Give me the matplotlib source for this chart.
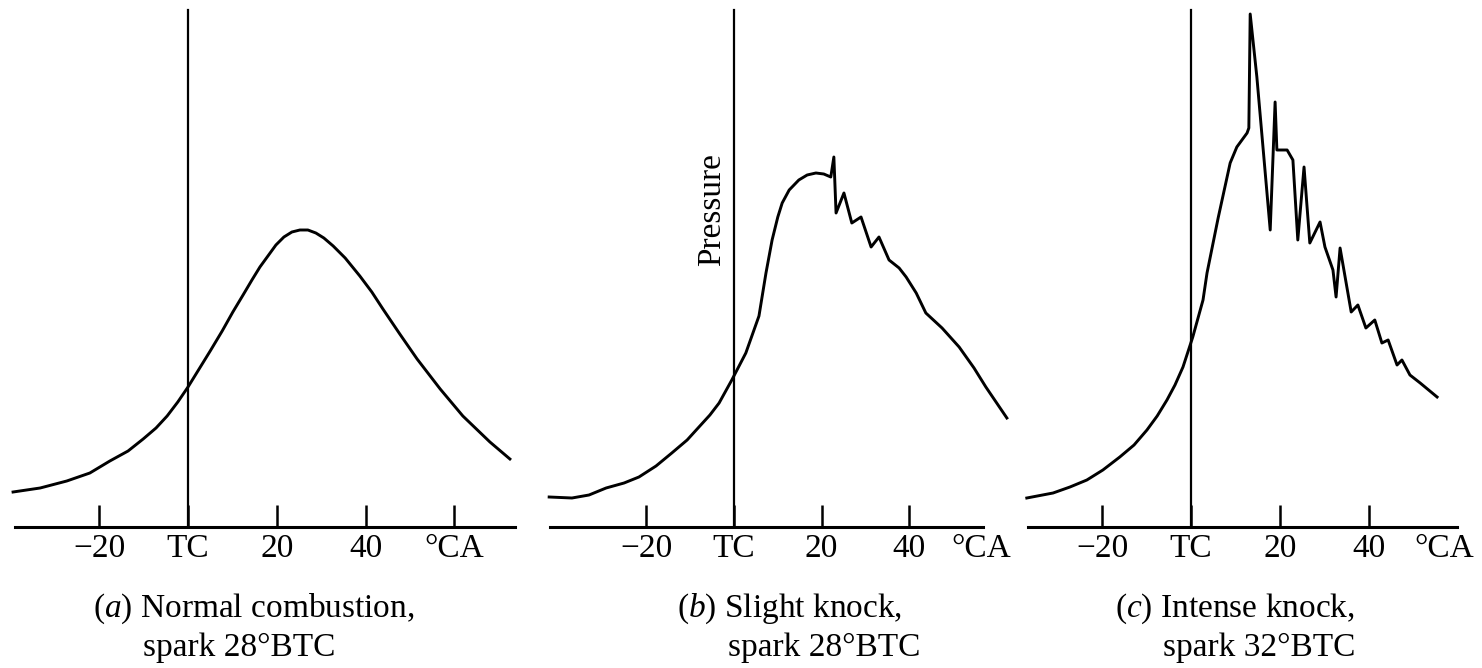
import numpy as np
import matplotlib
matplotlib.use("Agg")
import matplotlib.pyplot as plt

plt.rcParams['font.family'] = ['Liberation Serif', 'DejaVu Serif']
plt.rcParams['mathtext.fontset'] = 'custom'
plt.rcParams['mathtext.rm'] = 'Liberation Serif'
plt.rcParams['mathtext.it'] = 'Liberation Serif:italic'

# ---------------- data (crank angle deg, pressure arbitrary units) ----------------
a_ca = [-39.4, -33.3, -27.3, -22.1, -17.6, -13.5, -10.1, -7.2, -4.7, -2.3, 0.0, 2.5,
        5.0, 7.7, 10.1, 12.4, 14.4, 16.2, 18.0, 19.8, 21.6, 23.4, 25.2, 27.0,
        28.8, 30.6, 32.7, 35.4, 38.7, 41.4, 43.9, 47.7, 51.6, 56.8, 61.9, 68.0, 72.5]
a_p = [35, 39, 46, 54, 66, 76, 88, 99, 111, 125, 140, 158,
       176, 196, 215, 232, 247, 260, 271, 282, 290, 295, 297, 297,
       294, 289, 281, 269, 251, 235, 218, 193, 168, 138, 111, 85, 68]

b_ca = [-42.2, -37.0, -33.1, -29.2, -25.1, -21.7, -17.8, -14.2, -10.7, -8.0, -5.5, -3.4,
        -0.5, 2.7, 5.7, 7.3, 8.7, 10.0, 11.0, 12.6, 14.8, 16.7, 18.7, 20.5, 22.1,
        22.8, 23.3, 25.1, 26.9, 29.0, 31.3, 33.1, 35.4, 37.7, 39.3, 41.6, 43.8,
        47.5, 51.4, 54.8, 57.5, 62.3]
b_p = [30, 29, 32, 39, 44, 50, 61, 74, 87, 100, 112, 124,
       147, 174, 211, 254, 287, 310, 324, 337, 347, 352, 354, 353, 350,
       370, 314, 334, 304, 310, 280, 290, 267, 259, 250, 234, 214,
       199, 180, 159, 140, 109]

c_ca = [-36.9, -31.0, -27.2, -23.4, -19.8, -16.0, -12.8, -9.9, -7.6, -5.4, -3.6, -1.8,
        0.4, 2.7, 3.6, 6.1, 8.8, 10.3, 12.6, 13.0, 13.3, 14.8, 17.8, 18.9,
        19.3, 21.6, 22.9, 24.0, 25.4, 26.7, 29.0, 30.1, 31.9, 32.6, 33.5, 36.0,
        37.5, 39.3, 41.3, 42.9, 44.3, 46.3, 47.4, 49.2, 51.5, 55.3]
c_p = [29, 34, 40, 47, 57, 70, 82, 97, 111, 127, 142, 160,
       190, 227, 254, 309, 364, 380, 394, 399, 513, 450, 297, 425,
       377, 377, 367, 287, 360, 284, 305, 280, 257, 230, 279, 215,
       222, 199, 207, 184, 187, 162, 167, 152, 144, 130]

tick_vals = [-20, 0, 20, 40]
tick_labels = ['\u221220', 'TC', '20', '40']
unit_label = '\u00b0CA'
unit_pos = [60, 56.5, 57.0]

cap1 = [r'($\mathit{a}$) Normal combustion,', r'($\mathit{b}$) Slight knock,', r'($\mathit{c}$) Intense knock,']
cap2 = ['spark 28\u00b0BTC', 'spark 28\u00b0BTC', 'spark 32\u00b0BTC']
ylabel = 'Pressure'

# ---------------- layout (pixels) ----------------
W, H = 1482, 668
fig = plt.figure(figsize=(W / 100, H / 100), dpi=100)
base, top = 527, 7
panels = [  # axis left px, axis right px, TC px, px per degree
    (15, 515, 188, 4.44),
    (550, 983, 734, 4.38),
    (1028, 1457, 1191, 4.45),
]
cap_pos = [(93, 143), (677, 728), (1115, 1163)]
series = [(a_ca, a_p), (b_ca, b_p), (c_ca, c_p)]

for i, ((L, R, tc, s), (xs, ys)) in enumerate(zip(panels, series)):
    ax = fig.add_axes([L / W, (H - base) / H, (R - L) / W, (base - top) / H])
    ax.set_xlim((L - tc) / s, (R - tc) / s)
    ax.set_ylim(0, base - top)
    ax.patch.set_alpha(0)
    for sp in ['left', 'right', 'top']:
        ax.spines[sp].set_visible(False)
    ax.spines['bottom'].set_linewidth(2.2)
    ax.set_yticks([])
    ax.axvline(0, ymin=0, ymax=517 / 520, color='black', lw=1.6)
    ax.plot(xs, ys, color='black', lw=2.1, solid_joinstyle='round', clip_on=False)
    ax.set_xticks(tick_vals + [unit_pos[i]])
    ax.set_xticklabels(tick_labels + [unit_label])
    ax.tick_params(axis='x', direction='in', length=16, width=1.8, pad=5,
                   labelsize=24, colors='black')
    if i > 0:
        ax.xaxis.get_major_ticks()[-1].tick1line.set_visible(False)

    x1, x2 = cap_pos[i]
    fig.text(x1 / W, 1 - 617 / H, cap1[i], fontsize=24, ha='left', va='baseline')
    fig.text(x2 / W, 1 - 656 / H, cap2[i], fontsize=24, ha='left', va='baseline')

fig.text(712 / W, 1 - 210 / H, ylabel, fontsize=24, rotation=90, ha='center', va='center')

fig.savefig('out.png', dpi=100)
